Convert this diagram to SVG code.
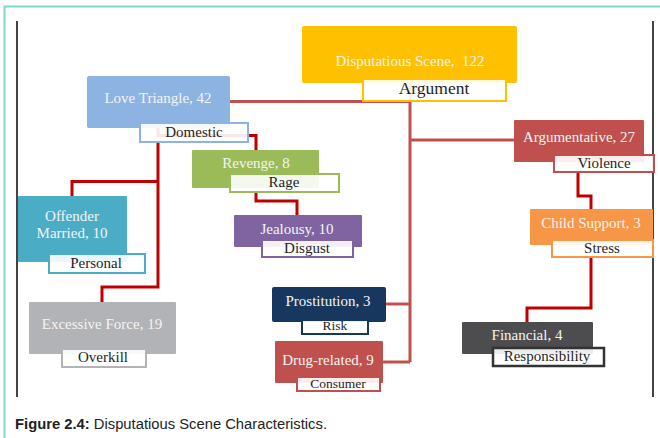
<svg xmlns="http://www.w3.org/2000/svg" width="660" height="438" viewBox="0 0 660 438">
<style>
.nt{font-family:"Liberation Serif","Times New Roman",serif;font-size:15px;fill:#F4F4F4;text-anchor:middle}
.lt{font-family:"Liberation Serif","Times New Roman",serif;font-size:15px;fill:#1E1E1E;text-anchor:middle}
.lb{fill:#FFFFFF;fill-opacity:0.9;stroke-width:2}
.c1{fill:none;stroke:#C0504D;stroke-width:3}
.c2{fill:none;stroke:#C00000;stroke-width:3}
</style>
<rect x="0" y="0" width="660" height="438" fill="#FFFFFF"/>
<path d="M4.5,438 V6.5 H660" fill="none" stroke="#7FD8C9" stroke-width="2"/>
<line x1="17" y1="21" x2="17" y2="397" stroke="#444" stroke-width="2"/>
<line x1="653" y1="21" x2="653" y2="397" stroke="#444" stroke-width="2"/>

<g id="connectors">
  <path class="c1" d="M230,101.5 H410"/>
  <path class="c1" d="M410,83 V362"/>
  <path class="c1" d="M410,140 H514"/>
  <path class="c1" d="M386,304 H410"/>
  <path class="c1" d="M383,362 H410"/>
  <path class="c2" d="M158,128 V135.5 H256 V150"/>
  <path class="c2" d="M158,142 V287 H102 V302"/>
  <path class="c2" d="M158,181.5 H72 V196"/>
  <path class="c2" d="M256,192 V201 H297 V215"/>
  <path class="c2" d="M578,172 V196 H591 V209"/>
  <path class="c2" d="M591,257 V308 H527 V322"/>
</g>

<g id="disputatious">
  <rect x="302" y="26" width="215" height="57" rx="2" fill="#FFC000"/>
  <text class="nt" x="410" y="66">Disputatious Scene,&#160; 122</text>
  <rect class="lb" x="363" y="79" width="143" height="22" stroke="#FFC000"/>
  <text class="lt" x="434" y="94" style="font-size:17.5px">Argument</text>
</g>

<g id="love-triangle">
  <rect x="87" y="76" width="143" height="52" rx="2" fill="#8DB3E2"/>
  <text class="nt" x="158" y="103">Love Triangle, 42</text>
  <rect class="lb" x="140" y="123" width="108" height="19" stroke="#8DB3E2"/>
  <text class="lt" x="194" y="137">Domestic</text>
</g>

<g id="argumentative">
  <rect x="514" y="120" width="130" height="42" rx="1" fill="#C0504D"/>
  <text class="nt" x="579" y="142">Argumentative, 27</text>
  <rect class="lb" x="554" y="155" width="100" height="17" stroke="#C0504D"/>
  <text class="lt" x="604" y="168">Violence</text>
</g>

<g id="revenge">
  <rect x="192" y="150" width="127" height="38" rx="1" fill="#9BBB59"/>
  <text class="nt" x="256" y="168">Revenge, 8</text>
  <rect class="lb" x="230" y="174" width="109" height="18" stroke="#9BBB59"/>
  <text class="lt" x="284" y="187">Rage</text>
</g>

<g id="jealousy">
  <rect x="234" y="215" width="128" height="32" rx="1" fill="#8064A2"/>
  <text class="nt" x="297" y="234">Jealousy, 10</text>
  <rect class="lb" x="262" y="240" width="91" height="17" stroke="#8064A2"/>
  <text class="lt" x="307" y="253">Disgust</text>
</g>

<g id="offender-married">
  <rect x="18" y="196" width="109" height="66" rx="1" fill="#4BACC6"/>
  <text class="nt" x="72" y="221">Offender</text>
  <text class="nt" x="72" y="238">Married, 10</text>
  <rect class="lb" x="49" y="254" width="96" height="19" stroke="#4BACC6"/>
  <text class="lt" x="96" y="268">Personal</text>
</g>

<g id="excessive-force">
  <rect x="29" y="302" width="147" height="52" rx="1" fill="#B1B3B6"/>
  <text class="nt" x="102" y="329">Excessive Force, 19</text>
  <rect class="lb" x="62" y="349" width="84" height="18" stroke="#B1B3B6"/>
  <text class="lt" x="103" y="362">Overkill</text>
</g>

<g id="prostitution">
  <rect x="272" y="287" width="114" height="35" rx="2" fill="#17375E"/>
  <text class="nt" x="328" y="306">Prostitution, 3</text>
  <rect class="lb" x="302" y="320" width="66" height="14" stroke="#17375E"/>
  <text class="lt" x="335" y="330" style="font-size:13.5px">Risk</text>
</g>

<g id="drug-related">
  <rect x="275" y="341" width="108" height="42" rx="1" fill="#C0504D"/>
  <text class="nt" x="328" y="365">Drug-related, 9</text>
  <rect class="lb" x="297" y="377" width="83" height="14" stroke="#C0504D"/>
  <text class="lt" x="338" y="388" style="font-size:13.5px">Consumer</text>
</g>

<g id="child-support">
  <rect x="530" y="209" width="123" height="36" rx="1" fill="#F79646"/>
  <text class="nt" x="591" y="228">Child Support, 3</text>
  <rect class="lb" x="552" y="240" width="101" height="17" stroke="#F79646"/>
  <text class="lt" x="602" y="253">Stress</text>
</g>

<g id="financial">
  <rect x="462" y="322" width="131" height="32" rx="1" fill="#4D4D4F"/>
  <text class="nt" x="527" y="340">Financial, 4</text>
  <rect class="lb" x="493" y="348" width="111" height="18" stroke="#333333" style="stroke-width:2.5"/>
  <text class="lt" x="547" y="361">Responsibility</text>
</g>

<text x="15" y="429" style="font-family:'Liberation Sans',Arial,sans-serif;font-size:15.5px;fill:#222" textLength="312" lengthAdjust="spacingAndGlyphs"><tspan font-weight="bold">Figure 2.4:</tspan> Disputatious Scene Characteristics.</text>
</svg>
